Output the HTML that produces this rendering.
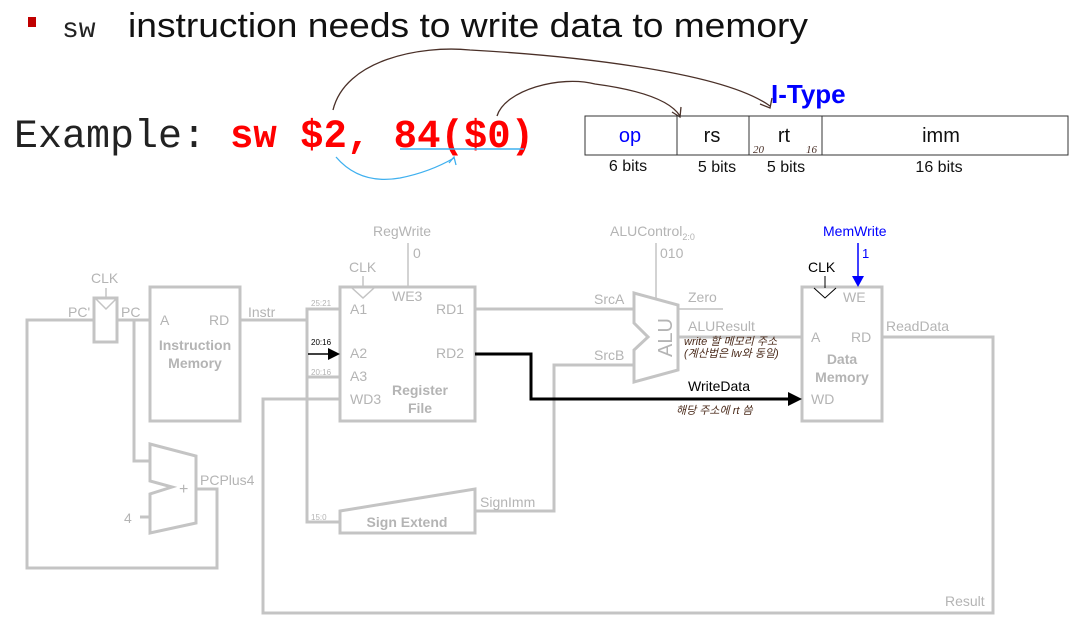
<!DOCTYPE html>
<html><head><meta charset="utf-8"><style>
html,body{margin:0;padding:0;background:#fff;}
svg{display:block;}
.g{font-family:"Liberation Sans",sans-serif;font-size:14px;fill:#b4b4b4;}
.gb{font-family:"Liberation Sans",sans-serif;font-size:14px;fill:#b4b4b4;font-weight:bold;}
.w{fill:none;stroke:#c4c4c4;stroke-width:3;}
.hw{font-family:"Liberation Sans","Noto Sans CJK KR",sans-serif;font-size:11px;fill:#4a2a1a;font-style:italic;}
</style></head><body>
<svg width="1076" height="620" viewBox="0 0 1076 620" xmlns="http://www.w3.org/2000/svg">
<!-- title -->
<rect x="28" y="17" width="8" height="10" fill="#c00000"/>
<text x="62" y="37" font-family="Liberation Mono,monospace" font-size="28" fill="#222">sw</text>
<text x="128" y="37" font-family="Liberation Sans,sans-serif" font-size="34" fill="#111" textLength="680" lengthAdjust="spacingAndGlyphs">instruction needs to write data to memory</text>
<!-- example -->
<text x="14" y="147" font-family="Liberation Mono,monospace" font-size="40" fill="#222">Example:</text>
<text x="230" y="147" font-family="Liberation Mono,monospace" font-size="40" font-weight="bold" fill="#ff0000" textLength="304" lengthAdjust="spacingAndGlyphs">sw $2, 84($0)</text>
<line x1="400" y1="149" x2="524" y2="149" stroke="#3fb0ef" stroke-width="1.5"/>
<path d="M336,157 Q360,185 400,178 Q430,172 454,158" fill="none" stroke="#3fb0ef" stroke-width="1.3"/>
<path d="M449,163 L454,157 L456,165" fill="none" stroke="#3fb0ef" stroke-width="1.3"/>
<path d="M333,110 C345,60 420,45 470,50 C560,55 720,70 770,106" fill="none" stroke="#4a3028" stroke-width="1.3"/>
<path d="M760,104 L770,108 L772,98" fill="none" stroke="#4a3028" stroke-width="1.3"/>
<path d="M497,116 C505,90 560,75 595,84 C640,90 670,100 680,116" fill="none" stroke="#4a3028" stroke-width="1.3"/>
<path d="M672,112 L680,117 L681,107" fill="none" stroke="#4a3028" stroke-width="1.3"/>
<text x="771" y="103" font-family="Liberation Sans,sans-serif" font-size="26" font-weight="bold" fill="#0000ff">I-Type</text>
<!-- table -->
<rect x="585" y="116" width="483" height="39" fill="none" stroke="#333" stroke-width="1"/>
<line x1="677" y1="116" x2="677" y2="155" stroke="#333"/>
<line x1="749" y1="116" x2="749" y2="155" stroke="#333"/>
<line x1="822" y1="116" x2="822" y2="155" stroke="#333"/>
<g font-family="Liberation Sans,sans-serif" font-size="20" text-anchor="middle">
<text x="630" y="142" fill="#0000ff">op</text>
<text x="712" y="142" fill="#111">rs</text>
<text x="784" y="142" fill="#111">rt</text>
<text x="941" y="142" fill="#111">imm</text>
</g>
<g font-family="Liberation Sans,sans-serif" font-size="16" text-anchor="middle" fill="#111">
<text x="628" y="171">6 bits</text>
<text x="717" y="172">5 bits</text>
<text x="786" y="172">5 bits</text>
<text x="939" y="172">16 bits</text>
</g>
<text x="753" y="153" font-family="Liberation Serif,serif" font-size="11" font-style="italic" fill="#4a3028">20</text>
<text x="806" y="153" font-family="Liberation Serif,serif" font-size="11" font-style="italic" fill="#4a3028">16</text>

<!-- diagram wires -->
<polyline class="w" points="94,320 27,320 27,568 217,568 217,489 196,489"/>
<polyline class="w" points="117,320 150,320"/>
<polyline class="w" points="134,320 134,461 150,461"/>
<line class="w" x1="140" y1="517" x2="150" y2="517"/>
<polyline class="w" points="240,320 307,320"/>
<polyline class="w" points="340,309 307,309 307,522 340,522"/>
<line class="w" x1="307" y1="377" x2="340" y2="377"/>
<polyline class="w" points="340,399 263,399 263,613 993,613 993,337 882,337"/>
<line class="w" x1="475" y1="309" x2="634" y2="309"/>
<polyline class="w" points="475,511 554,511 554,365 634,365"/>
<line class="w" x1="678" y1="309" x2="723" y2="309" style="stroke-width:1.5"/>
<line class="w" x1="678" y1="337" x2="802" y2="337"/>
<line class="w" x1="408" y1="243" x2="408" y2="287" style="stroke-width:1.5"/>
<line class="w" x1="656" y1="243" x2="656" y2="298" style="stroke-width:1.5"/>
<line class="w" x1="106" y1="288" x2="106" y2="298" style="stroke-width:1.5"/>
<line class="w" x1="363" y1="276" x2="363" y2="287" style="stroke-width:1.5"/>

<rect class="w" x="94" y="298" width="23" height="44" fill="#fff"/>
<polyline points="96,299 106,309 116,299" fill="none" stroke="#c4c4c4" stroke-width="1.5"/>
<rect class="w" x="150" y="287" width="90" height="134"/>
<polygon class="w" points="150,444 196,456 196,523 150,533 150,494 172,487 150,481"/>
<rect class="w" x="340" y="287" width="135" height="134"/>
<polyline points="352,288 363,298 374,288" fill="none" stroke="#c4c4c4" stroke-width="1.5"/>
<polygon class="w" points="340,511 475,489 475,533 340,533"/>
<polygon class="w" points="634,293 678,305 678,370 634,382 634,350 648,337 634,323"/>
<rect class="w" x="802" y="287" width="80" height="134"/>
<line x1="825" y1="276" x2="825" y2="288" stroke="#000" stroke-width="1"/>
<polyline points="814,288 825,298 836,288" fill="none" stroke="#000" stroke-width="1"/>
<line x1="858" y1="243" x2="858" y2="278" stroke="#0000ff" stroke-width="1.5"/>
<polygon points="852,276 864,276 858,287" fill="#0000ff"/>

<line x1="308" y1="354" x2="330" y2="354" stroke="#000" stroke-width="1.5"/>
<polygon points="328,348 340,354 328,360" fill="#000"/>
<polyline points="475,354 531,354 531,399 790,399" fill="none" stroke="#000" stroke-width="3"/>
<polygon points="788,392 802,399 788,406" fill="#000"/>

<text class="g" x="91" y="283">CLK</text>
<text class="g" x="68" y="317">PC'</text>
<text class="g" x="121" y="317">PC</text>
<text class="g" x="160" y="325">A</text>
<text class="g" x="209" y="325">RD</text>
<text class="gb" x="195" y="350" text-anchor="middle">Instruction</text>
<text class="gb" x="195" y="368" text-anchor="middle">Memory</text>
<text class="g" x="248" y="317">Instr</text>
<text class="g" x="179" y="494" style="font-size:16px">+</text>
<text class="g" x="200" y="485">PCPlus4</text>
<text class="g" x="124" y="523">4</text>
<text class="g" x="311" y="306" style="font-size:8px">25:21</text>
<text x="311" y="345" font-family="Liberation Sans,sans-serif" font-size="8" fill="#000">20:16</text>
<text class="g" x="311" y="375" style="font-size:8px">20:16</text>
<text class="g" x="311" y="520" style="font-size:8px">15:0</text>
<text class="g" x="373" y="236">RegWrite</text>
<text class="g" x="413" y="258">0</text>
<text class="g" x="349" y="272">CLK</text>
<text class="g" x="392" y="301">WE3</text>
<text class="g" x="350" y="314">A1</text>
<text class="g" x="436" y="314">RD1</text>
<text class="g" x="350" y="358">A2</text>
<text class="g" x="436" y="358">RD2</text>
<text class="g" x="350" y="381">A3</text>
<text class="g" x="350" y="404">WD3</text>
<text class="gb" x="420" y="395" text-anchor="middle">Register</text>
<text class="gb" x="420" y="413" text-anchor="middle">File</text>
<text class="gb" x="407" y="527" text-anchor="middle">Sign Extend</text>
<text class="g" x="480" y="507">SignImm</text>
<text class="g" x="594" y="304">SrcA</text>
<text class="g" x="594" y="360">SrcB</text>
<text class="g" x="610" y="236">ALUControl<tspan style="font-size:9px" dy="4">2:0</tspan></text>
<text class="g" x="660" y="258">010</text>
<text class="g" x="688" y="302">Zero</text>
<text class="g" x="688" y="331">ALUResult</text>
<text class="g" x="0" y="0" style="font-size:20px" transform="translate(672,357) rotate(-90)">ALU</text>
<text x="808" y="272" font-family="Liberation Sans,sans-serif" font-size="14" fill="#000">CLK</text>
<text x="823" y="236" font-family="Liberation Sans,sans-serif" font-size="14" fill="#0000ff">MemWrite</text>
<text x="862" y="258" font-family="Liberation Sans,sans-serif" font-size="13" fill="#0000ff">1</text>
<text class="g" x="843" y="302">WE</text>
<text class="g" x="811" y="342">A</text>
<text class="g" x="851" y="342">RD</text>
<text class="gb" x="842" y="364" text-anchor="middle">Data</text>
<text class="gb" x="842" y="382" text-anchor="middle">Memory</text>
<text class="g" x="811" y="404">WD</text>
<text class="g" x="886" y="331">ReadData</text>
<text class="g" x="945" y="606">Result</text>
<text x="688" y="391" font-family="Liberation Sans,sans-serif" font-size="14" fill="#000">WriteData</text>
<text class="hw" x="684" y="345">write 할 메모리 주소</text>
<text class="hw" x="684" y="357">(계산법은 lw와 동일)</text>
<text class="hw" x="676" y="414">해당 주소에 rt 씀</text>
</svg>
</body></html>
